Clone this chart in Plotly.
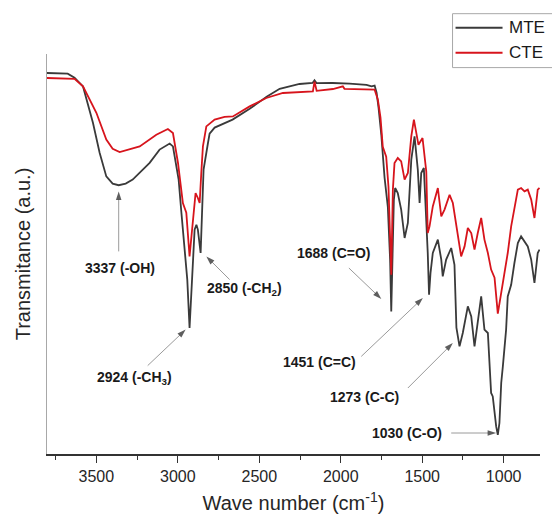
import plotly.graph_objects as go

# ---------------- data ----------------
mte_wn = [3803, 3737, 3676, 3634, 3582, 3521, 3480, 3439, 3400, 3363, 3320, 3277,
          3173, 3112, 3050, 3030, 2995, 2978, 2958, 2942, 2928, 2913, 2897, 2886,
          2877, 2860, 2851, 2842, 2815, 2805, 2774, 2713, 2664, 2559, 2455, 2375,
          2253, 2173, 2161, 2148, 2050, 1946, 1842, 1811, 1792, 1780, 1768, 1751,
          1731, 1711, 1697, 1690, 1674, 1666, 1650, 1629, 1608, 1588, 1567, 1547,
          1527, 1516, 1506, 1490, 1475, 1466, 1458, 1449, 1435, 1404, 1383, 1374,
          1353, 1322, 1302, 1290, 1271, 1251, 1220, 1199, 1179, 1159, 1138, 1118,
          1097, 1077, 1067, 1046, 1036, 1026, 1015, 1005, 985, 975, 954, 934,
          913, 893, 872, 852, 831, 811, 791, 780]
mte_t = [95.25, 95.2, 95.1, 94.1, 91.9, 82.8, 75.3, 69.4, 67.6, 67.2, 67.6, 68.6,
         72.8, 76.1, 77.6, 76.9, 68.6, 60.3, 51.9, 43.6, 31.5, 43.6, 56.1, 57.3,
         56.1, 50.25, 63.6, 71.1, 77.75, 80.1, 81.6, 82.8, 83.6, 86.3, 89.3, 91.3,
         92.5, 92.75, 93.45, 92.7, 92.75, 92.6, 92.3, 91.9, 92.1, 90.3, 86.6, 79.8,
         69.1, 61.8, 48.6, 35.65, 63.6, 66.5, 65.25, 61.1, 54.0, 57.75, 73.6, 79.4,
         71.1, 62.75, 70.25, 71.5, 58.6, 50.25, 39.8, 45.3, 50.25, 53.6, 48.6, 44.4,
         48.6, 51.5, 47.3, 31.6, 26.9, 30.25, 36.9, 34.4, 26.9, 33.6, 39.4, 31.1,
         30.25, 15.25, 14.4, 6.9, 4.8, 7.75, 17.75, 21.9, 31.1, 39.4, 42.3, 47.75,
         52.75, 54.4, 53.15, 51.9, 48.6, 42.75, 50.25, 51.1]

cte_wn = [3803, 3725, 3634, 3582, 3500, 3439, 3400, 3357, 3296, 3234, 3132, 3061,
          3030, 2999, 2969, 2948, 2928, 2907, 2891, 2877, 2866, 2856, 2846, 2825,
          2774, 2713, 2662, 2559, 2457, 2355, 2253, 2171, 2161, 2148, 2048, 1987,
          1977, 1946, 1843, 1792, 1772, 1756, 1742, 1721, 1707, 1690, 1680, 1670,
          1650, 1629, 1608, 1588, 1567, 1551, 1523, 1498, 1475, 1466, 1455, 1435,
          1404, 1383, 1363, 1332, 1312, 1291, 1271, 1261, 1240, 1220, 1199, 1179,
          1159, 1138, 1118, 1097, 1077, 1056, 1036, 1015, 995, 975, 954, 934,
          913, 893, 872, 852, 831, 811, 791, 780]
cte_t = [94.0, 93.95, 93.8, 91.9, 85.3, 78.6, 76.3, 75.5, 76.1, 76.9, 79.8, 81.25,
         80.25, 72.75, 62.75, 60.3, 49.4, 58.6, 65.25, 64.0, 62.75, 70.25, 76.9, 81.9,
         83.6, 84.3, 84.4, 86.9, 89.0, 90.25, 90.5, 90.65, 93.1, 90.8, 91.25, 91.9,
         91.3, 91.25, 91.25, 91.1, 88.6, 84.1, 76.8, 74.3, 66.8, 44.8, 66.1, 72.75,
         74.0, 73.15, 68.6, 70.25, 79.4, 83.6, 77.3, 79.0, 70.6, 55.25, 56.9, 61.9,
         66.5, 59.4, 61.1, 64.8, 62.75, 56.9, 51.1, 49.4, 51.9, 56.5, 55.25, 51.1,
         55.25, 59.0, 53.6, 50.25, 46.1, 44.1, 35.1, 40.25, 45.25, 50.25, 56.9, 61.1,
         66.1, 66.5, 65.65, 66.1, 63.6, 59.0, 66.1, 66.5]

series_names = ["MTE", "CTE"]
series_colors = ["#3a3a3a", "#d7141c"]

x_range = [3803, 777]
major_ticks = [3500, 3000, 2500, 2000, 1500, 1000]
minor_ticks = [3750, 3250, 2750, 2250, 1750, 1250]

# peak annotations: label, label position, arrow start, arrow tip (wavenumber, transmittance)
peak_text = ["3337 (-OH)", "2850 (-CH<sub>2</sub>)", "2924 (-CH<sub>3</sub>)",
             "1688 (C=O)", "1451 (C=C)", "1273 (C-C)", "1030 (C-O)"]
text_wn = [3357, 2590, 3265, 2044, 2130, 1854, 1592]
text_t = [46.6, 41.3, 19.1, 50.3, 23.1, 14.3, 5.25]
arrow_start_wn = [3363, 2682, 3185, 1950, 1874, 1588, 1322]
arrow_start_t = [50.65, 43.6, 22.1, 46.5, 24.4, 16.5, 5.25]
arrow_tip_wn = [3363, 2825, 2952, 1751, 1496, 1312, 1046]
arrow_tip_t = [65.65, 49.4, 31.1, 38.75, 39.0, 27.75, 5.25]

FONT = "Liberation Sans, Arial, sans-serif"

fig = go.Figure()
for name, wn, t, col in [(series_names[0], mte_wn, mte_t, series_colors[0]),
                         (series_names[1], cte_wn, cte_t, series_colors[1])]:
    fig.add_trace(go.Scatter(x=wn, y=t, mode="lines", name=name,
                             line=dict(color=col, width=1.8), showlegend=False))

# arrows: grey shaft with a dark head oriented along the shaft
for i in range(len(peak_text)):
    fig.add_trace(go.Scatter(
        x=[arrow_start_wn[i], arrow_tip_wn[i]], y=[arrow_start_t[i], arrow_tip_t[i]],
        mode="lines+markers", showlegend=False, hoverinfo="skip",
        line=dict(color="#9a9a9a", width=1),
        marker=dict(symbol="arrow", size=[0, 9], color="#1a1a1a",
                    angleref="previous", line=dict(width=0)),
    ))

annotations = []
for i in range(len(peak_text)):
    annotations.append(dict(x=text_wn[i], y=text_t[i], xref="x", yref="y",
                            text="<b>" + peak_text[i] + "</b>", showarrow=False,
                            font=dict(family=FONT, size=14, color="#1a1a1a")))

# legend drawn in paper coordinates (box is clipped at the right edge in the reference)
legend_rows_y = [1.0658, 1.0033]
shapes = [dict(type="rect", xref="paper", yref="paper", x0=0.8226, x1=1.03,
               y0=0.966, y1=1.1008, line=dict(color="#a8a8a8", width=1),
               fillcolor="rgba(0,0,0,0)")]
for i, name in enumerate(series_names):
    shapes.append(dict(type="line", xref="paper", yref="paper", x0=0.8287, x1=0.924,
                       y0=legend_rows_y[i], y1=legend_rows_y[i],
                       line=dict(color=series_colors[i], width=2)))
    annotations.append(dict(x=0.9321, y=legend_rows_y[i], xref="paper", yref="paper",
                            xanchor="left", yanchor="middle", text=name, showarrow=False,
                            font=dict(family=FONT, size=17, color="#1a1a1a")))

fig.update_layout(
    width=552, height=519,
    margin=dict(l=47.3, r=11.5, t=54.3, b=64.7, autoexpand=False),
    paper_bgcolor="white", plot_bgcolor="white",
    font=dict(family=FONT, color="#262626"),
    annotations=annotations, shapes=shapes,
    showlegend=False,
)
fig.update_xaxes(
    range=x_range, tickvals=major_ticks, ticks="outside", ticklen=7, tickwidth=1.3,
    tickcolor="#333333", showline=True, linecolor="#333333", linewidth=1.5,
    showgrid=False, zeroline=False, tickfont=dict(family=FONT, size=16, color="#262626"),
    minor=dict(tickvals=minor_ticks, ticks="outside", ticklen=4, tickwidth=1.2,
               tickcolor="#333333", showgrid=False),
    title=dict(text="Wave number (cm<sup>-1</sup>)", font=dict(family=FONT, size=20, color="#262626"),
               standoff=12),
)
fig.update_yaxes(
    range=[0, 100], showticklabels=False, ticks="", showline=True, linecolor="#a8a8a8",
    linewidth=1, showgrid=False, zeroline=False,
    title=dict(text="Transmitance (a.u.)", font=dict(family=FONT, size=20, color="#262626"),
               standoff=10),
)

fig.write_html("out.html", config={"displayModeBar": False},
               post_script="document.body.style.margin='0';")
